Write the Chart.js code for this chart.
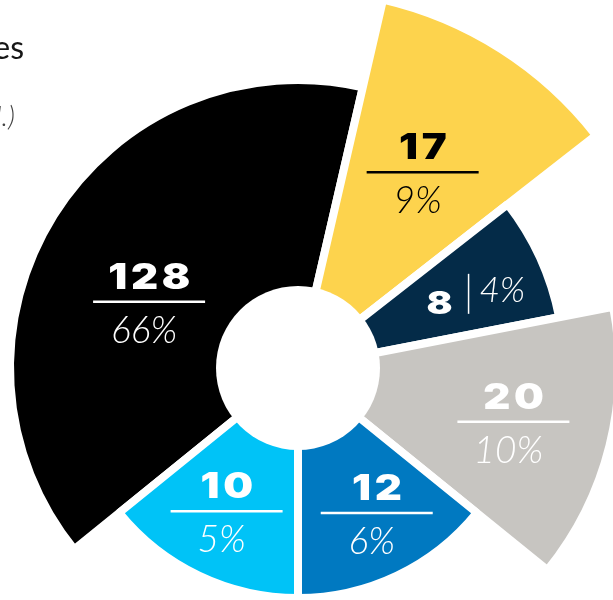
<!DOCTYPE html>
<html>
<head>
<meta charset="utf-8">
<script src="https://cdn.jsdelivr.net/npm/chart.js@4.4.1/dist/chart.umd.min.js"></script>
<style>
  html, body {
    margin: 0;
    padding: 0;
    width: 613px;
    height: 600px;
    overflow: hidden;
    background: #ffffff;
  }
  #chart-wrap {
    position: relative;
    width: 613px;
    height: 600px;
    overflow: hidden;
  }
  #breakdown-chart {
    position: absolute;
    left: -80px;
    top: -10px;
  }
  .heading {
    position: absolute;
    white-space: nowrap;
    font-family: Lato, 'Open Sans', sans-serif;
  }
  .heading.main {
    top: 27px;
    right: 589px;
    font-size: 32px;
    color: #161616;
  }
  .heading.sub {
    top: 98px;
    right: 598px;
    font-size: 28px;
    font-style: italic;
    font-weight: 300;
    color: #444444;
  }
</style>
</head>
<body>
<div id="chart-wrap">
  <canvas id="breakdown-chart" width="756" height="756"></canvas>
  <div class="heading main">Response Categories</div>
  <div class="heading sub">(n = 195 total.)</div>
</div>
<script>
// Chart data
const categories = ['Group A', 'Group B', 'Group C', 'Group D', 'Group E', 'Group F'];
const counts = [128, 17, 8, 20, 12, 10];
const percentLabels = ['66%', '9%', '4%', '10%', '6%', '5%'];
// Angular width of each slice (degrees) and its outer reach on the r scale
const sliceAngles = [142, 39, 27, 50, 51, 51];
const sliceReach = [288, 378, 266, 321, 230, 230];

const sliceColors = ['#000000', '#fdd34d', '#042b48', '#c7c5c1', '#0079c1', '#00c3f7'];
const textColors = ['#ffffff', '#000000', '#ffffff', '#ffffff', '#ffffff', '#ffffff'];

// Label placement along each slice (distance from centre, angle tweak in degrees)
const labelDist = [163, 232, 186, 222, 165, 160];
const labelTurn = [-8, 0, 1, 0, -3, 1];

const NUMBER_FONT = "900 35px Inter, 'DejaVu Sans', sans-serif";
const SMALL_NUMBER_FONT = "900 32px Inter, 'DejaVu Sans', sans-serif";
const PERCENT_FONT = "italic 300 37px Lato, 'Open Sans', sans-serif";
const SMALL_PERCENT_FONT = "italic 300 35px Lato, 'Open Sans', sans-serif";
const NUMBER_STRETCH = 1.2; // the bold figures are wide in the original

// draw text stretched horizontally around (x, y)
function drawWide(ctx, text, x, y) {
  ctx.save();
  ctx.translate(x, y);
  ctx.scale(NUMBER_STRETCH, 1);
  ctx.fillText(text, 0, 0);
  ctx.restore();
}

// White hole in the middle plus the count / percent labels
const sliceLabels = {
  id: 'sliceLabels',
  afterDatasetsDraw(chart) {
    const ctx = chart.ctx;
    const scale = chart.scales.r;
    const cx = scale.xCenter;
    const cy = scale.yCenter;

    ctx.save();
    ctx.fillStyle = '#ffffff';
    ctx.beginPath();
    ctx.arc(cx, cy, 82, 0, Math.PI * 2);
    ctx.fill();

    const arcs = chart.getDatasetMeta(0).data;
    arcs.forEach(function(arc, i) {
      const mid = (arc.startAngle + arc.endAngle) / 2 + labelTurn[i] * Math.PI / 180;
      const x = cx + Math.cos(mid) * labelDist[i];
      const y = cy + Math.sin(mid) * labelDist[i];
      const color = textColors[i];
      ctx.fillStyle = color;
      ctx.strokeStyle = color;
      ctx.textBaseline = 'alphabetic';

      if (counts[i] < 10) {
        // narrow slice: "8 | 4%" on one line
        ctx.font = SMALL_NUMBER_FONT;
        ctx.textAlign = 'center';
        drawWide(ctx, String(counts[i]), x - 29, y + 20);
        ctx.lineWidth = 1.5;
        ctx.beginPath();
        ctx.moveTo(x, y - 20);
        ctx.lineTo(x, y + 20);
        ctx.stroke();
        ctx.font = SMALL_PERCENT_FONT;
        ctx.textAlign = 'left';
        ctx.fillText(percentLabels[i], x + 11, y + 8);
        return;
      }

      ctx.textAlign = 'center';
      ctx.font = NUMBER_FONT;
      ctx.letterSpacing = '3px';
      drawWide(ctx, String(counts[i]), x + 2, y - 13);
      ctx.letterSpacing = '0px';

      ctx.lineWidth = 2.5;
      ctx.beginPath();
      ctx.moveTo(x - 56, y);
      ctx.lineTo(x + 56, y);
      ctx.stroke();

      ctx.font = PERCENT_FONT;
      ctx.fillText(percentLabels[i], x - 5, y + 41);
    });
    ctx.restore();
  }
};

const ctx = document.getElementById('breakdown-chart').getContext('2d');
const breakdownChart = new Chart(ctx, {
  type: 'polarArea',
  data: {
    labels: categories,
    datasets: [{
      data: sliceReach,
      backgroundColor: sliceColors,
      borderColor: '#ffffff',
      borderWidth: 8,
      angle: function(context) {
        return sliceAngles[context.dataIndex];
      }
    }]
  },
  options: {
    responsive: false,
    animation: false,
    layout: { padding: 0 },
    plugins: {
      legend: { display: false },
      tooltip: { enabled: false }
    },
    scales: {
      r: {
        display: false,
        min: 0,
        max: 378,
        startAngle: 231
      }
    }
  },
  plugins: [sliceLabels]
});
</script>
</body>
</html>
